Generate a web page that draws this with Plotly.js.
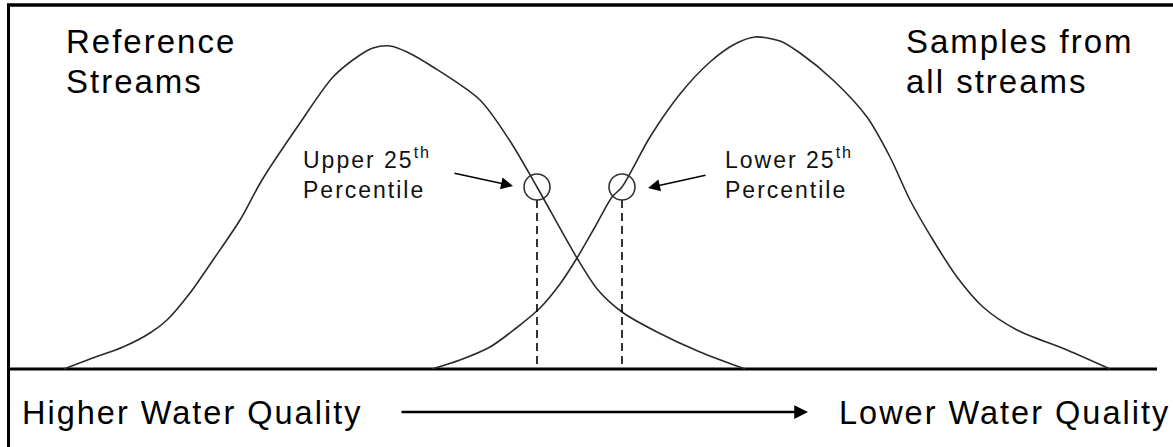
<!DOCTYPE html>
<html><head><meta charset="utf-8">
<script src="https://cdn.plot.ly/plotly-3.0.1.min.js"></script>
<style>html,body{margin:0;padding:0;background:#fff;} svg text{letter-spacing:2px;}</style>
</head><body><div id="chart" style="width:1173px;height:447px;"></div>
<script>
// Curve shapes (x position, height above the baseline)
const referenceX = [64, 90, 123, 150, 167, 190, 213, 240, 262, 300, 333, 360, 373, 390, 407, 433, 480, 510, 537, 577, 598, 622, 657, 700, 745];
const referenceY = [0, 10, 22, 36, 49, 76, 109, 149, 189, 246, 292, 314, 321, 323, 317, 302, 269, 228, 182, 111, 79, 57, 37, 17, 0];
const samplesX = [432, 460, 490, 515, 540, 560, 577, 595, 612, 622, 650, 680, 710, 735, 755, 780, 800, 833, 867, 890, 910, 933, 957, 983, 1017, 1067, 1110];
const samplesY = [0, 9, 22, 40, 61, 85, 111, 142, 172, 182, 232, 275, 307, 325, 332, 328, 316, 289, 252, 212, 169, 129, 92, 62, 39, 19, 0];

const baselineX = [10, 1157];
const baselineY = [0, 0];

const percentileX = [537, 622];
const percentileY = [182, 182];
const percentileLabels = ['Upper 25<sup>th</sup>', 'Lower 25<sup>th</sup>'];
const percentileSub = 'Percentile';

const distLabels = [['Reference', 'Streams'], ['Samples from', 'all streams']];
const axisLabels = ['Higher Water Quality', 'Lower Water Quality'];

const circleR = 13;
// dashed drop lines from each percentile circle to the baseline
const dropX = [], dropY = [];
percentileX.forEach((x, i) => { dropX.push(x, x, null); dropY.push(percentileY[i] - circleR, 0, null); });

const curveLine = {color: '#2a2a2a', width: 1.6, shape: 'spline', smoothing: 0.8};
const traces = [
  {x: baselineX, y: baselineY, mode: 'lines', line: {color: '#000', width: 3}},
  {x: referenceX, y: referenceY, mode: 'lines', line: curveLine},
  {x: samplesX, y: samplesY, mode: 'lines', line: curveLine},
  {x: dropX, y: dropY, mode: 'lines', line: {color: '#000', width: 1.6, dash: '8px,5px'}},
  {x: percentileX, y: percentileY, mode: 'markers',
   marker: {symbol: 'circle-open', size: 2 * circleR, color: '#333', line: {width: 1.6, color: '#333'}}}
];

const topFont = {family: 'Liberation Sans, Arial, sans-serif', size: 33, color: '#000'};
const bottomFont = {family: 'Liberation Sans, Arial, sans-serif', size: 32.5, color: '#000'};
const smallFont = {family: 'Liberation Sans, Arial, sans-serif', size: 23, color: '#111'};
const Y = p => 369 - p; // pixel row -> height above baseline

const annotations = [
  {x: 64, y: Y(41), text: distLabels[0][0], xanchor: 'left', yanchor: 'middle', showarrow: false, font: topFont},
  {x: 64, y: Y(81), text: distLabels[0][1], xanchor: 'left', yanchor: 'middle', showarrow: false, font: topFont},
  {x: 904, y: Y(41), text: distLabels[1][0], xanchor: 'left', yanchor: 'middle', showarrow: false, font: topFont},
  {x: 904, y: Y(81), text: distLabels[1][1], xanchor: 'left', yanchor: 'middle', showarrow: false, font: topFont},
  {x: 301, y: Y(158), text: percentileLabels[0], xanchor: 'left', yanchor: 'middle', showarrow: false, font: smallFont},
  {x: 301, y: Y(190), text: percentileSub, xanchor: 'left', yanchor: 'middle', showarrow: false, font: smallFont},
  {x: 723, y: Y(158), text: percentileLabels[1], xanchor: 'left', yanchor: 'middle', showarrow: false, font: smallFont},
  {x: 723, y: Y(190), text: percentileSub, xanchor: 'left', yanchor: 'middle', showarrow: false, font: smallFont},
  {x: 20, y: Y(413), text: axisLabels[0], xanchor: 'left', yanchor: 'middle', showarrow: false, font: bottomFont},
  {x: 1172, y: Y(413), text: axisLabels[1], xanchor: 'right', yanchor: 'middle', showarrow: false, font: bottomFont},
  // arrows
  {x: 808, y: Y(412), ax: 400, ay: Y(412), axref: 'x', ayref: 'y', text: '', showarrow: true,
   arrowhead: 2, arrowsize: 1.1, arrowwidth: 2.5, arrowcolor: '#000'},
  {x: 513, y: Y(186), ax: 453, ay: Y(173), axref: 'x', ayref: 'y', text: '', showarrow: true,
   arrowhead: 2, arrowsize: 1.6, arrowwidth: 1.5, arrowcolor: '#000'},
  {x: 648, y: Y(188), ax: 707, ay: Y(175), axref: 'x', ayref: 'y', text: '', showarrow: true,
   arrowhead: 2, arrowsize: 1.6, arrowwidth: 1.5, arrowcolor: '#000'}
];

const layout = {
  width: 1173, height: 447,
  margin: {l: 0, r: 0, t: 0, b: 0},
  paper_bgcolor: '#fff', plot_bgcolor: '#fff',
  showlegend: false,
  xaxis: {range: [0, 1173], visible: false, fixedrange: true},
  yaxis: {range: [Y(447), Y(0)], visible: false, fixedrange: true},
  annotations: annotations,
  shapes: [
    {type: 'line', xref: 'paper', yref: 'paper', x0: 7 / 1173, x1: 1, y0: 1 - 5 / 447, y1: 1 - 5 / 447, line: {color: '#000', width: 3.5}},
    {type: 'line', xref: 'paper', yref: 'paper', x0: 8.5 / 1173, x1: 8.5 / 1173, y0: 0, y1: 1 - 4 / 447, line: {color: '#000', width: 3}}
  ]
};

Plotly.newPlot('chart', traces, layout, {displayModeBar: false, staticPlot: true});
</script></body></html>
